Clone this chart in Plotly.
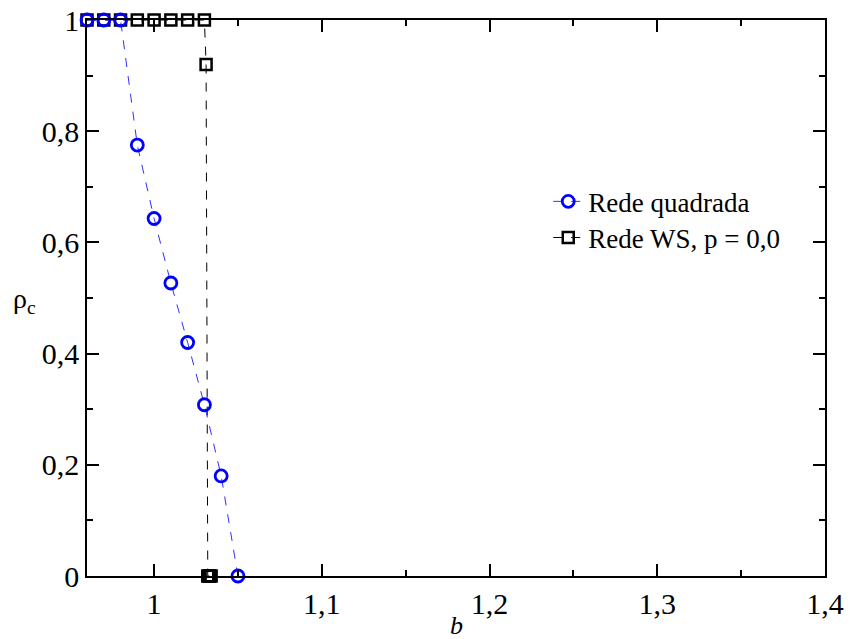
import plotly.graph_objects as go

b_square = [0.96, 0.97, 0.98, 0.99, 1.00, 1.01, 1.02, 1.03, 1.04, 1.05]
rho_square = [1.0, 1.0, 1.0, 0.775, 0.643, 0.527, 0.42, 0.308, 0.18, 0.0]

b_ws = [0.96, 0.97, 0.98, 0.99, 1.00, 1.01, 1.02, 1.03, 1.031, 1.032, 1.033, 1.034]
rho_ws = [1, 1, 1, 1, 1, 1, 1, 1, 0.92, 0, 0, 0]

xticks = [1.0, 1.1, 1.2, 1.3, 1.4]
xticklabels = ["1", "1,1", "1,2", "1,3", "1,4"]
yticks = [0, 0.2, 0.4, 0.6, 0.8, 1.0]
yticklabels = ["0", "0,2", "0,4", "0,6", "0,8", "1"]

font_family = '"Liberation Serif", "Times New Roman", serif'

fig = go.Figure()
fig.add_trace(go.Scatter(
    x=b_ws, y=rho_ws, mode="lines+markers", name="Rede WS, p = 0,0",
    line=dict(color="black", width=1, dash="dash"),
    marker=dict(symbol="square-open", size=11, color="black", line=dict(width=2.5, color="black")),
    cliponaxis=False, legend="legend2",
))
fig.add_trace(go.Scatter(
    x=b_square, y=rho_square, mode="lines+markers", name="Rede quadrada",
    line=dict(color="#3030ff", width=1, dash="dash"),
    marker=dict(symbol="circle-open", size=12, color="#0000ff", line=dict(width=2.8, color="#0000ff")),
    cliponaxis=False, legend="legend",
))

axis_common = dict(
    showgrid=False, zeroline=False, showline=True, linecolor="black", linewidth=1.5,
    mirror="ticks", ticks="inside", ticklen=12, tickwidth=1.5, tickcolor="black",
    tickfont=dict(family=font_family, size=30, color="black"),
    automargin=False,
)

fig.update_xaxes(
    range=[0.96, 1.4], tickvals=xticks, ticktext=xticklabels,
    minor=dict(ticks="inside", ticklen=6, dtick=0.05, tick0=0, tickcolor="black", tickwidth=1.5),
    **axis_common,
)
fig.update_yaxes(
    range=[0, 1], tickvals=yticks, ticktext=yticklabels,
    minor=dict(ticks="inside", ticklen=6, dtick=0.1, tick0=0, tickcolor="black", tickwidth=1.5),
    **axis_common,
)

fig.add_annotation(text="<i>b</i>", x=0.5, y=0, xref="paper", yref="paper",
                   yshift=-49, showarrow=False, yanchor="middle",
                   font=dict(family=font_family, size=26, color="black"))
fig.add_annotation(text="ρ<sub>c</sub>", x=0, y=0.495, xref="paper", yref="paper",
                   xshift=-76, showarrow=False, xanchor="left",
                   font=dict(family=font_family, size=28, color="black"))

legend_common = dict(xanchor="left", yanchor="middle", bgcolor="rgba(0,0,0,0)",
                     font=dict(family=font_family, size=27, color="black"))

fig.update_layout(
    width=850, height=639,
    margin=dict(l=87, r=25, t=20, b=63, autoexpand=False),
    plot_bgcolor="white", paper_bgcolor="white",
    showlegend=True,
    legend=dict(x=0.625, y=0.673, **legend_common),
    legend2=dict(x=0.625, y=0.608, **legend_common),
)

fig.write_html("out.html")
